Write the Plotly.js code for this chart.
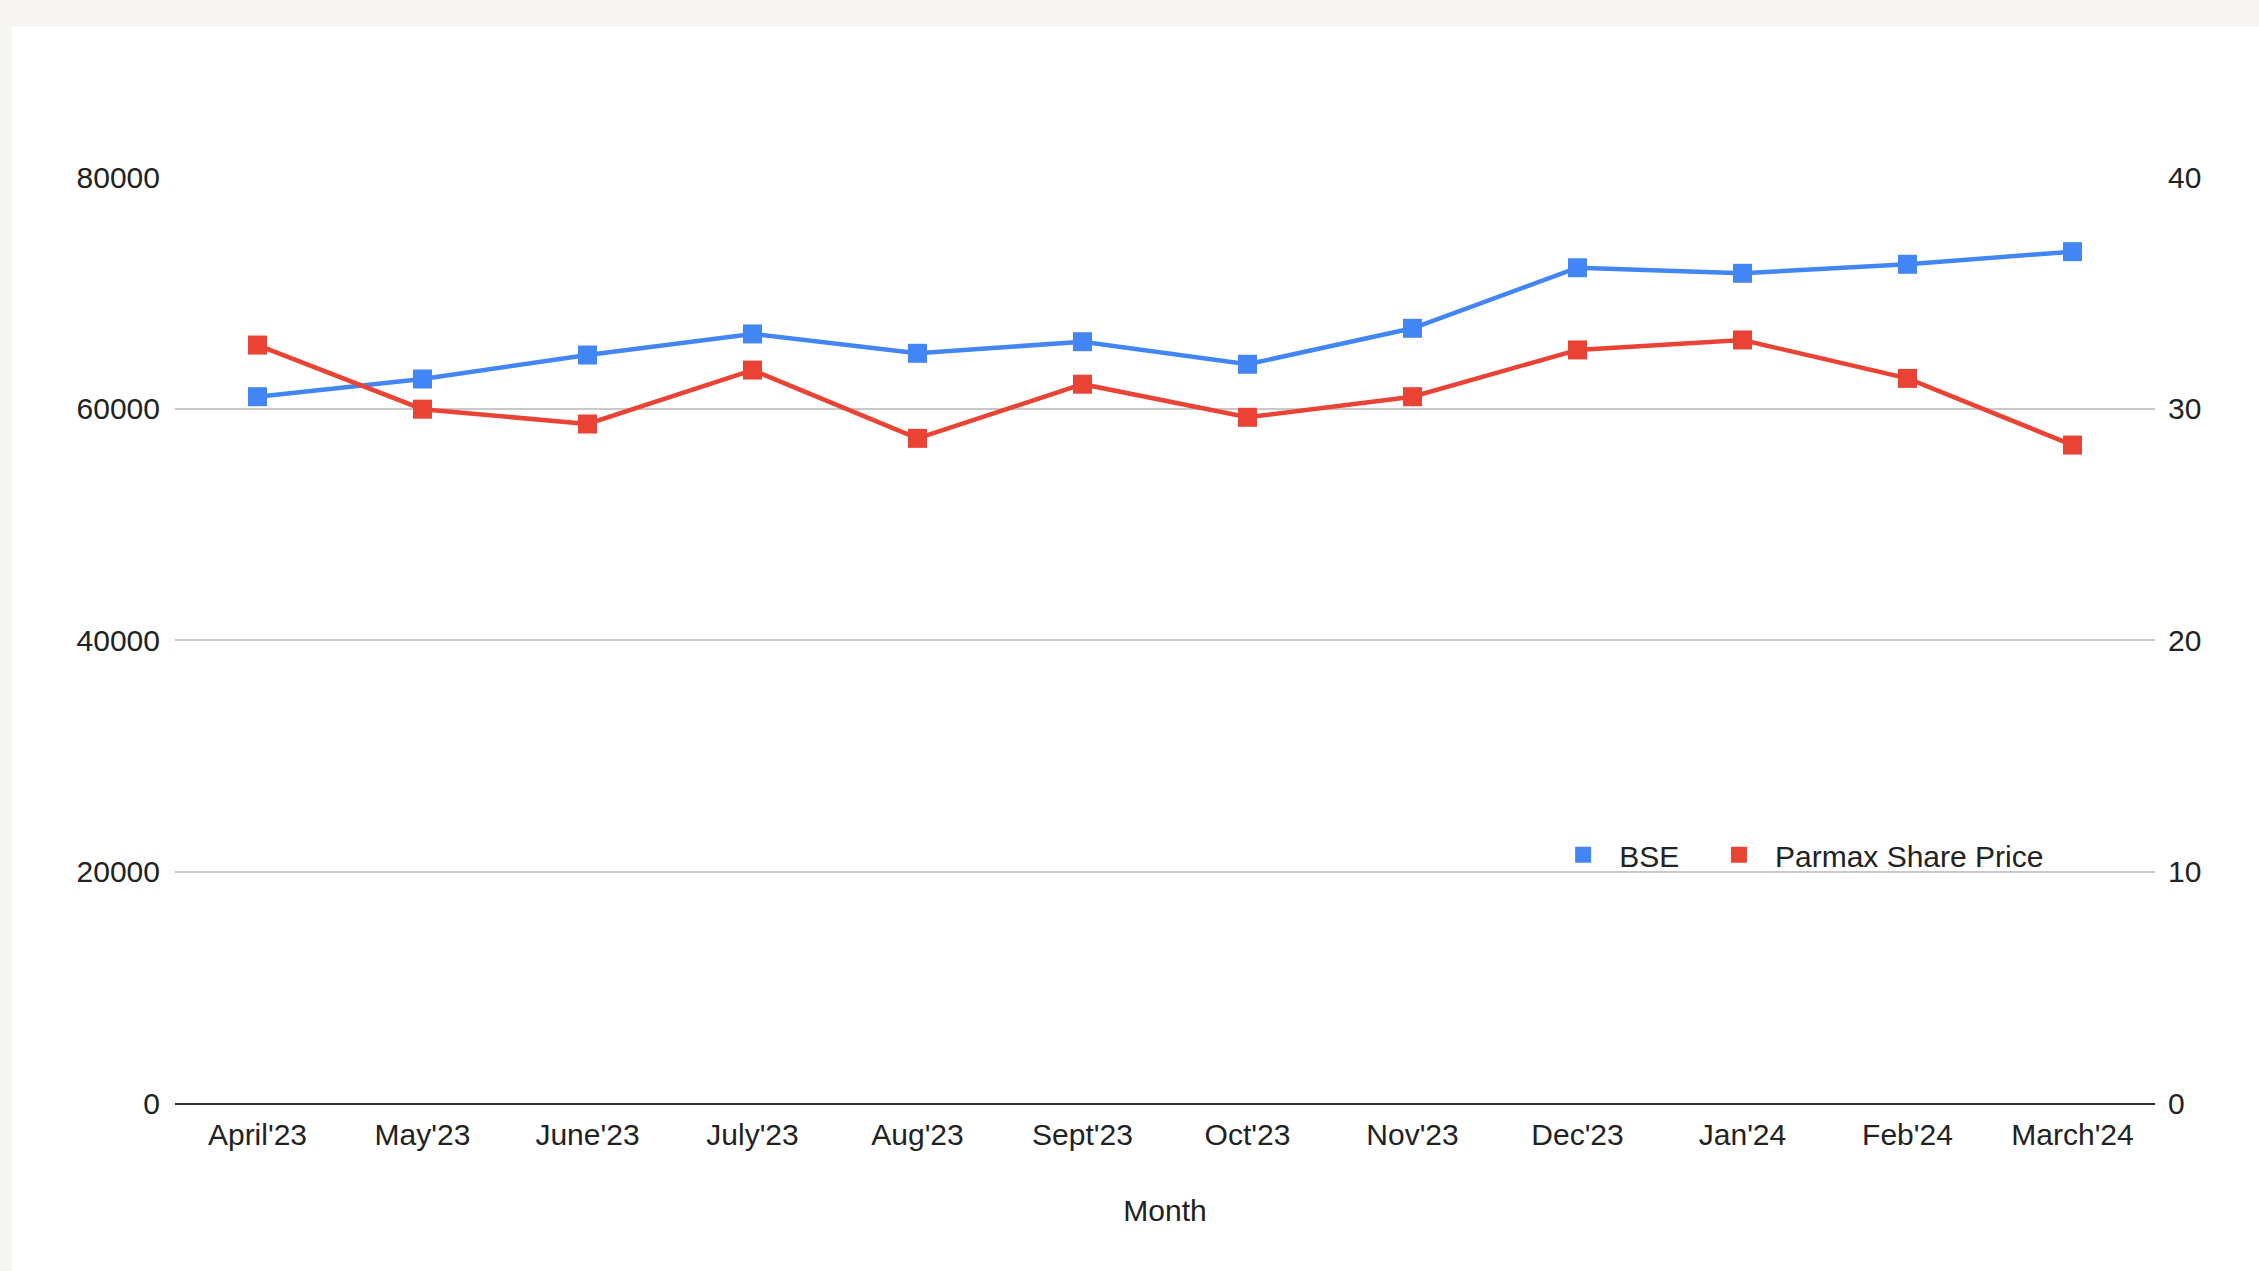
<!DOCTYPE html>
<html>
<head>
<meta charset="utf-8">
<script src="https://cdn.plot.ly/plotly-3.0.1.min.js"></script>
<style>
  html, body { margin: 0; padding: 0; background: #f6f5f1; width: 2259px; height: 1271px; overflow: hidden; }
  #chart { position: absolute; left: 12px; top: 27px; width: 2247px; height: 1244px; background: #ffffff; }
</style>
</head>
<body>
<div id="chart"></div>
<script>
const months = ["April'23", "May'23", "June'23", "July'23", "Aug'23", "Sept'23", "Oct'23", "Nov'23", "Dec'23", "Jan'24", "Feb'24", "March'24"];
const bse = [61020, 62550, 64620, 66440, 64770, 65770, 63820, 66930, 72160, 71680, 72460, 73550];
const parmax = [32.74, 29.97, 29.33, 31.66, 28.71, 31.05, 29.62, 30.51, 32.53, 32.96, 31.30, 28.42];
const leftTicks = [0, 20000, 40000, 60000, 80000];
const rightTicks = [0, 10, 20, 30, 40];
const seriesNames = ["BSE", "Parmax Share Price"];

const BLUE = '#4285F4';
const RED = '#EA4335';
const FONT = '"Liberation Sans", Arial, sans-serif';

const traces = [
  {
    x: months, y: bse, name: seriesNames[0], type: 'scatter', mode: 'lines+markers',
    line: {color: BLUE, width: 4.5},
    marker: {symbol: 'square', size: 19, color: BLUE},
    yaxis: 'y', showlegend: false, cliponaxis: false
  },
  {
    x: months, y: parmax, name: seriesNames[1], type: 'scatter', mode: 'lines+markers',
    line: {color: RED, width: 4.5},
    marker: {symbol: 'square', size: 19, color: RED},
    yaxis: 'y2', showlegend: false, cliponaxis: false
  },
  {
    x: [null], y: [null], name: seriesNames[0], type: 'scatter', mode: 'markers',
    marker: {symbol: 'square', size: 16, color: BLUE}, showlegend: true, legend: 'legend'
  },
  {
    x: [null], y: [null], name: seriesNames[1], type: 'scatter', mode: 'markers',
    marker: {symbol: 'square', size: 16, color: RED}, showlegend: true, legend: 'legend2'
  }
];

const legendBase = {
  orientation: 'h', y: 0.268, xanchor: 'left', yanchor: 'middle',
  bgcolor: 'rgba(0,0,0,0)', font: {family: FONT, size: 30, color: '#222222'},
  itemwidth: 62, itemclick: false, tracegroupgap: 0
};

const layout = {
  width: 2247, height: 1244,
  paper_bgcolor: '#ffffff', plot_bgcolor: '#ffffff',
  margin: {l: 163, r: 104, t: 150, b: 168, pad: 0},
  font: {family: FONT, size: 30, color: '#222222'},
  showlegend: true,
  legend: Object.assign({}, legendBase, {x: 0.693}),
  legend2: Object.assign({}, legendBase, {x: 0.7717}),
  xaxis: {
    type: 'category', categoryorder: 'array', categoryarray: months,
    range: [-0.5, 11.5], showgrid: false, zeroline: false,
    showline: true, linecolor: '#333333', linewidth: 2,
    ticks: '', ticklabelstandoff: 4, tickfont: {family: FONT, size: 30, color: '#222222'},
    title: {text: 'Month', font: {family: FONT, size: 30, color: '#222222'}, standoff: 50},
    automargin: false, fixedrange: true
  },
  yaxis: {
    range: [0, 80000], tickvals: leftTicks, ticktext: leftTicks.map(String),
    showgrid: true, gridcolor: '#c8c8c8', gridwidth: 2,
    zeroline: false, showline: false, ticks: '', ticklabelstandoff: 14,
    tickfont: {family: FONT, size: 30, color: '#222222'},
    automargin: false, fixedrange: true
  },
  yaxis2: {
    overlaying: 'y', side: 'right', range: [0, 40], tickvals: rightTicks, ticktext: rightTicks.map(String),
    showgrid: false, zeroline: false, showline: false, ticks: '', ticklabelstandoff: 12,
    tickfont: {family: FONT, size: 30, color: '#222222'},
    automargin: false, fixedrange: true
  }
};

Plotly.newPlot('chart', traces, layout, {displayModeBar: false, staticPlot: true});
</script>
</body>
</html>
